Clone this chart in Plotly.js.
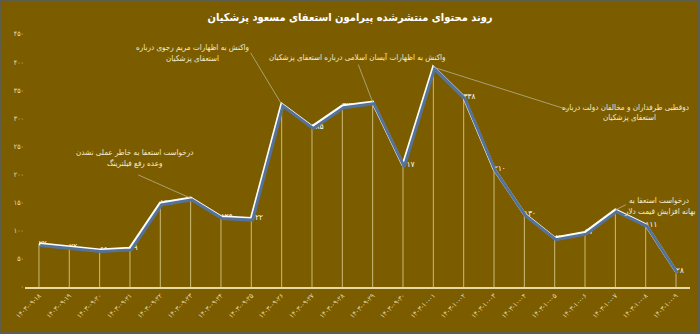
<!DOCTYPE html>
<html>
<head>
<meta charset="utf-8">
<script src="https://cdn.plot.ly/plotly-3.0.1.min.js"></script>
<style>
  html, body { margin: 0; padding: 0; background: #5d5f4c; }
  #chart { width: 696px; height: 330px; border: 2px solid #5d5f4c; }
</style>
</head>
<body>
<div id="chart"></div>
<script>
// ---- data ----
const dates = [
  "۱۴۰۳-۰۹-۱۸", "۱۴۰۳-۰۹-۱۹", "۱۴۰۳-۰۹-۲۰", "۱۴۰۳-۰۹-۲۱", "۱۴۰۳-۰۹-۲۲",
  "۱۴۰۳-۰۹-۲۳", "۱۴۰۳-۰۹-۲۴", "۱۴۰۳-۰۹-۲۵", "۱۴۰۳-۰۹-۲۶", "۱۴۰۳-۰۹-۲۷",
  "۱۴۰۳-۰۹-۲۸", "۱۴۰۳-۰۹-۲۹", "۱۴۰۳-۰۹-۳۰", "۱۴۰۳-۱۰-۰۱", "۱۴۰۳-۱۰-۰۲",
  "۱۴۰۳-۱۰-۰۳", "۱۴۰۳-۱۰-۰۴", "۱۴۰۳-۱۰-۰۵", "۱۴۰۳-۱۰-۰۶", "۱۴۰۳-۱۰-۰۷",
  "۱۴۰۳-۱۰-۰۸", "۱۴۰۳-۱۰-۰۹"
];
const counts = [77, 72, 66, 69, 149, 158, 125, 122, 325, 285, 322, 329, 217, 391, 338, 210, 130, 87, 97, 137, 111, 28];
const yTickVals = [0, 50, 100, 150, 200, 250, 300, 350, 400, 450];
const yTickText = ["۰", "۵۰", "۱۰۰", "۱۵۰", "۲۰۰", "۲۵۰", "۳۰۰", "۳۵۰", "۴۰۰", "۴۵۰"];
const noteIndex = [8, 11, 13, 5, 19];
const noteLines = [
  ["واکنش به اظهارات مریم رجوی درباره", "استعفای پزشکیان"],
  ["واکنش به اظهارات آیسان اسلامی درباره استعفای پزشکیان"],
  ["دوقطبی طرفداران و مخالفان دولت درباره", "استعفای پزشکیان"],
  ["درخواست استعفا به خاطر عملی نشدن", "وعده رفع فیلترینگ"],
  ["درخواست استعفا به", "بهانه افزایش قیمت دلار"]
];
const titleText = "روند محتوای منتشرشده پیرامون استعفای مسعود پزشکیان";

// ---- helpers ----
const faDigits = "۰۱۲۳۴۵۶۷۸۹";
const toFa = n => String(n).replace(/[0-9]/g, d => faDigits[+d]);
const valueLabels = counts.map((v, i) => noteIndex.includes(i) ? "" : toFa(v));

const bg = "#7b5d00";
const cream = "#eadcaa";
const font = "DejaVu Sans Condensed, DejaVu Sans, sans-serif";
const xr = [-0.46, 21.46];
const yr = [0, 450];

const traces = [
  { // drop lines
    x: dates, y: counts, type: "scatter", mode: "markers",
    marker: { size: 1, opacity: 0 },
    error_y: { type: "data", symmetric: false, array: counts.map(() => 0), arrayminus: counts,
               width: 0, thickness: 1, color: "rgba(225,210,150,0.8)" },
    hoverinfo: "skip", showlegend: false
  },
  { // shadow
    x: dates, y: counts, type: "scatter", mode: "lines", xaxis: "x2", yaxis: "y2",
    line: { color: "#55739a", width: 3 }, hoverinfo: "skip", showlegend: false
  },
  { // main line
    x: dates, y: counts, type: "scatter", mode: "lines+text",
    line: { color: "#ffffff", width: 3 },
    text: valueLabels, textposition: "middle right",
    textfont: { family: font, size: 8, color: "#ffffff" },
    showlegend: false
  }
];

// pixel placement of note text (relative to its point) and of the leader-line tail
const noteShift = [
  [[-89, 57], [-89, 46]],
  [[-15, 45]],
  [[192, -40], [196, -50]],
  [[-56, 46], [-56, 35]],
  [[44, 9], [44, -2]]
];
const leaderTail = [[-32, -53], [-15, -39], [136, 43], [-54, -24], [12, -6]];

const annotations = [];
noteIndex.forEach((idx, k) => {
  noteLines[k].forEach((line, j) => {
    annotations.push({
      x: dates[idx], y: counts[idx], xref: "x", yref: "y",
      text: line, showarrow: false,
      xshift: noteShift[k][j][0], yshift: noteShift[k][j][1],
      font: { family: font, size: 8, color: "#f4ecd0" }
    });
  });
  annotations.push({
    x: dates[idx], y: counts[idx], xref: "x", yref: "y",
    text: "", showarrow: true, arrowhead: 0, arrowwidth: 0.8, standoff: 0,
    arrowcolor: "#b8b090", ax: leaderTail[k][0], ay: leaderTail[k][1]
  });
});

const layout = {
  width: 696, height: 330,
  paper_bgcolor: bg, plot_bgcolor: bg,
  margin: { l: 23, r: 8, t: 32.3, b: 45, pad: 0 },
  title: { text: "<b>" + titleText + "</b>", x: 0.5, xanchor: "center", y: 0.955, yanchor: "middle",
           font: { family: font, size: 11, color: "#ffffff" } },
  xaxis: {
    type: "category", range: xr, showgrid: false, zeroline: false,
    showline: true, linecolor: "#e8d9a0", linewidth: 2,
    ticks: "", tickangle: -45, automargin: false,
    tickfont: { family: font, size: 7, color: cream }
  },
  yaxis: {
    range: yr, showgrid: false, zeroline: false, showline: false,
    tickvals: yTickVals, ticktext: yTickText, automargin: false,
    tickfont: { family: font, size: 7, color: cream }
  },
  xaxis2: { type: "category", overlaying: "x", range: [xr[0] - 0.04, xr[1] - 0.04], visible: false },
  yaxis2: { overlaying: "y", range: [yr[0] + 3, yr[1] + 3], visible: false },
  annotations: annotations
};

Plotly.newPlot("chart", traces, layout, { displayModeBar: false, staticPlot: true });
</script>
</body>
</html>
